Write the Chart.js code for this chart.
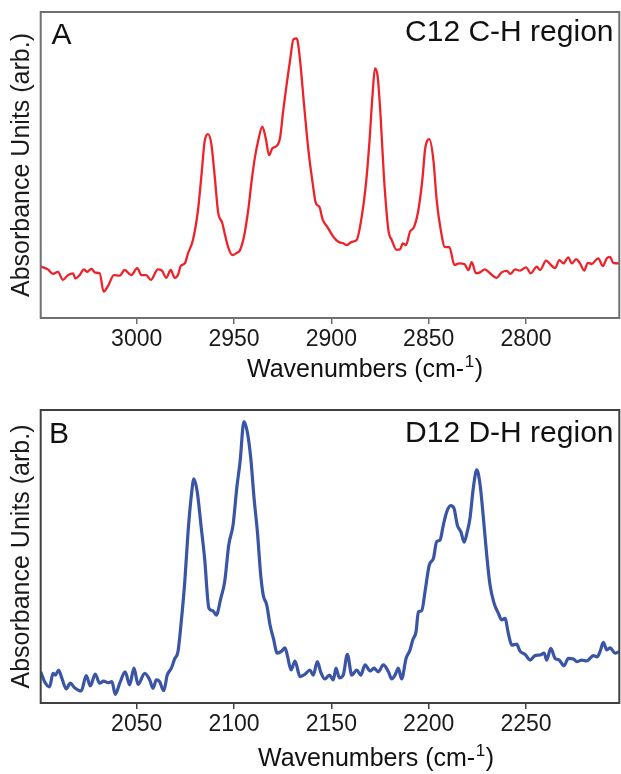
<!DOCTYPE html>
<html>
<head>
<meta charset="utf-8">
<script src="https://cdn.jsdelivr.net/npm/chart.js@4.4.1/dist/chart.umd.min.js"></script>
<style>
  html, body { margin: 0; padding: 0; background: #ffffff; }
  canvas { position: absolute; left: 0; }
  #chartA { top: 0; }
  #chartB { top: 390px; }
</style>
</head>
<body>
<canvas id="chartA" width="621" height="390"></canvas>
<canvas id="chartB" width="621" height="384"></canvas>
<script>
// ---------- Panel A: C12 C-H region ----------
const wavenumbersC12 = [3049.3,3045.6,3043.0,3040.4,3037.9,3035.3,3032.7,3031.5,3029.3,3027.1,
  3025.4,3023.3,3021.3,3019.0,3017.0,3014.7,3011.7,3008.7,3006.2,3002.8,
  2999.7,2997.6,2995.1,2992.8,2989.1,2987.0,2984.8,2982.5,2980.5,2978.8,
  2977.4,2975.3,2973.6,2971.1,2968.5,2966.8,2965.1,2963.4,2961.7,2959.9,
  2958.2,2956.0,2954.8,2953.1,2950.9,2948.3,2946.9,2944.9,2942.7,2940.9,
  2939.2,2937.5,2935.5,2933.7,2932.0,2930.3,2928.6,2926.4,2924.7,2922.9,
  2921.2,2919.5,2917.8,2916.1,2914.1,2911.8,2909.6,2907.9,2906.2,2904.4,
  2902.1,2899.0,2896.4,2893.9,2892.1,2889.5,2887.0,2884.4,2882.2,2880.5,
  2878.8,2877.6,2876.2,2874.7,2873.0,2870.7,2869.0,2866.4,2864.7,2863.3,
  2861.7,2859.6,2857.5,2855.3,2853.1,2851.9,2849.7,2847.6,2845.9,2843.8,
  2841.6,2839.4,2836.8,2834.3,2831.7,2829.6,2827.9,2825.7,2823.6,2821.1,
  2818.5,2815.1,2812.5,2809.9,2807.9,2805.7,2803.1,2800.0,2797.6,2794.5,
  2792.8,2789.7,2787.3,2785.1,2782.9,2780.8,2778.3,2776.5,2774.3,2772.3,
  2770.1,2768.3,2766.3,2762.9,2760.6,2758.5,2756.9,2755.2,2752.1];
const absorbanceC12 = [17.1,16.2,14.7,15.4,12.7,14.3,14.9,13.2,14.3,16.2,
  15.4,16.4,15.1,14.9,8.8,10.7,14.3,14.1,16.0,14.3,
  16.6,14.3,14.3,12.7,16.2,15.8,13.4,16.0,13.4,14.3,
  17.3,18.2,21.6,26.0,36.0,47.1,58.8,61.3,58.2,47.1,
  35.4,31.6,28.2,23.8,21.0,21.8,22.7,27.1,36.0,46.0,
  53.8,59.3,63.8,59.9,54.3,56.6,57.1,59.9,69.3,78.2,
  86.0,92.9,93.2,86.0,71.6,56.0,44.9,38.2,37.1,32.7,
  30.4,27.1,25.4,24.9,24.3,25.4,26.0,33.8,44.9,58.2,
  74.9,83.2,80.4,67.1,47.1,29.3,26.0,22.7,22.9,24.9,
  24.3,28.8,30.4,36.0,47.1,56.0,59.6,52.7,39.3,29.3,
  23.6,23.6,17.7,18.2,18.0,16.0,18.6,14.9,15.2,16.2,
  14.9,13.4,15.2,15.7,14.7,16.2,15.8,16.9,14.9,17.1,
  16.0,19.1,17.7,16.6,19.3,18.2,20.2,18.2,19.6,18.2,
  15.8,18.4,18.0,19.9,17.3,19.9,20.4,18.4,18.2];
const xTicksC12 = [3000, 2950, 2900, 2850, 2800];

// ---------- Panel B: D12 D-H region ----------
const wavenumbersD12 = [2000.7,2002.7,2005.3,2007.0,2008.2,2009.9,2011.6,2013.8,2015.9,2018.1,
  2021.5,2024.1,2026.2,2028.7,2031.0,2033.0,2035.3,2037.3,2039.0,2041.3,
  2044.1,2046.4,2048.6,2050.7,2054.1,2056.7,2058.4,2060.1,2061.8,2063.9,
  2065.7,2067.8,2069.5,2071.2,2072.9,2074.7,2076.4,2078.1,2079.4,2081.1,
  2083.2,2084.9,2087.1,2089.2,2090.9,2093.2,2095.2,2097.3,2099.5,2101.4,
  2103.1,2105.1,2106.8,2108.6,2110.3,2112.0,2113.7,2115.0,2116.8,2118.5,
  2120.2,2122.2,2124.5,2126.2,2127.4,2129.3,2131.3,2133.9,2136.5,2139.0,
  2140.7,2142.8,2144.5,2146.7,2149.0,2151.0,2152.4,2154.1,2156.1,2158.2,
  2160.5,2163.0,2165.1,2167.3,2169.9,2171.9,2174.1,2176.7,2179.3,2181.0,
  2182.7,2184.4,2186.1,2188.4,2190.4,2191.8,2193.5,2194.7,2196.4,2198.1,
  2200.3,2202.4,2204.1,2205.8,2207.5,2209.3,2211.3,2213.0,2214.7,2216.5,
  2218.2,2219.8,2221.2,2222.9,2224.7,2226.4,2228.1,2229.8,2231.5,2233.6,
  2235.8,2237.5,2239.2,2240.9,2242.7,2245.2,2246.9,2249.5,2252.1,2254.6,
  2257.2,2259.3,2260.6,2262.7,2264.9,2267.1,2269.5,2271.7,2274.3,2276.1,
  2278.6,2281.2,2282.9,2284.6,2286.6,2288.0,2289.7,2291.5,2293.2,2295.7,
  2297.8];
const absorbanceD12 = [10.4,7.1,5.4,9.9,9.3,11.0,8.2,4.7,6.6,5.1,
  4.0,9.1,5.7,9.6,6.6,7.3,6.8,7.1,2.9,6.6,
  10.4,6.0,11.6,6.2,9.9,7.7,4.9,7.7,7.1,4.1,
  9.3,11.6,14.7,17.1,27.1,40.4,57.1,69.3,74.7,70.4,
  58.2,48.2,31.6,30.7,29.3,34.9,40.4,52.7,59.3,71.6,
  80.4,93.8,90.4,81.6,68.2,57.1,42.7,36.0,32.7,26.0,
  21.6,16.6,17.3,18.4,15.8,11.0,14.0,8.8,9.6,11.0,
  9.3,13.8,10.4,8.0,9.3,7.7,11.6,8.4,9.3,16.2,
  9.3,11.0,9.3,12.7,10.7,11.6,10.4,12.7,10.4,8.0,
  9.3,11.6,8.0,14.9,17.7,21.0,23.8,30.4,30.7,37.1,
  46.0,48.2,53.8,54.3,59.3,63.8,65.8,64.9,59.3,57.1,
  53.6,57.1,61.6,71.6,77.7,72.7,61.6,49.3,39.3,33.2,
  29.9,27.7,28.2,23.2,19.3,19.6,17.3,16.2,14.3,15.8,
  16.0,16.6,14.3,18.2,14.9,14.3,12.4,14.9,14.7,13.8,
  14.3,14.0,14.9,15.8,15.4,17.1,20.2,17.7,18.4,16.6,
  17.1];
const xTicksD12 = [2050, 2100, 2150, 2200, 2250];

// ---------- Texts ----------
const panelLetters = ['A', 'B'];
const panelTitles = ['C12 C-H region', 'D12 D-H region'];
const yAxisTitle = 'Absorbance Units (arb.)';
const xAxisTitleParts = ['Wavenumbers (cm-', '1', ')'];

const FONT = "'Liberation Sans', Arial, Helvetica, sans-serif";
Chart.defaults.font.family = FONT;

function textPlugin(cfg) {
  return {
    id: 'panelText',
    afterDraw(chart) {
      const ctx = chart.ctx;
      const a = chart.chartArea;
      ctx.save();
      // frame
      ctx.strokeStyle = cfg.frameColor;
      ctx.lineWidth = 2;
      ctx.strokeRect(a.left, a.top, a.right - a.left, a.bottom - a.top);
      ctx.fillStyle = '#111111';
      ctx.textBaseline = 'alphabetic';
      // panel letter
      ctx.font = '30px ' + FONT;
      ctx.textAlign = 'left';
      ctx.fillText(cfg.letter, cfg.letterX, cfg.letterBase);
      // panel title
      ctx.textAlign = 'right';
      ctx.fillText(cfg.title, cfg.titleRight, cfg.titleBase);
      // x axis title with superscript
      ctx.textAlign = 'left';
      const mainFont = '25px ' + FONT, supFont = '17px ' + FONT;
      ctx.font = mainFont; const w0 = ctx.measureText(xAxisTitleParts[0]).width;
      const w2 = ctx.measureText(xAxisTitleParts[2]).width;
      ctx.font = supFont; const w1 = ctx.measureText(xAxisTitleParts[1]).width;
      let x = cfg.xTitleCenter - (w0 + w1 + w2 + 1) / 2;
      ctx.font = mainFont; ctx.fillText(xAxisTitleParts[0], x, cfg.xTitleBase); x += w0 + 0.5;
      ctx.font = supFont; ctx.fillText(xAxisTitleParts[1], x, cfg.xTitleBase - 10); x += w1 + 0.5;
      ctx.font = mainFont; ctx.fillText(xAxisTitleParts[2], x, cfg.xTitleBase);
      ctx.restore();
    }
  };
}

function makeChart(id, xs, ys, xTicks, cfg) {
  const points = xs.map((x, i) => ({ x: x, y: ys[i] }));
  return new Chart(document.getElementById(id), {
    type: 'line',
    data: {
      datasets: [{
        data: points,
        borderColor: cfg.color,
        borderWidth: cfg.lineWidth,
        pointRadius: 0,
        fill: false,
        cubicInterpolationMode: 'monotone'
      }]
    },
    options: {
      responsive: false,
      animation: false,
      events: [],
      layout: { padding: { top: cfg.padTop, right: 1.7, left: 0, bottom: 0 } },
      plugins: { legend: { display: false }, tooltip: { enabled: false } },
      scales: {
        x: {
          type: 'linear',
          reverse: cfg.reverse,
          min: cfg.xMin,
          max: cfg.xMax,
          afterBuildTicks: s => { s.ticks = xTicks.map(v => ({ value: v })); },
          afterFit: s => { s.height = cfg.xHeight; },
          border: { display: false },
          grid: { display: true, drawOnChartArea: false, drawTicks: true, tickLength: 6,
                  color: cfg.frameColor, lineWidth: 1.5 },
          ticks: { color: '#1a1a1a', font: { size: 23 }, padding: 2, maxRotation: 0,
                   autoSkip: false, callback: v => String(v) }
        },
        y: {
          min: 0,
          max: cfg.yMax,
          afterFit: s => { s.width = 40.7; },
          border: { display: false },
          grid: { display: false },
          ticks: { display: false },
          title: { display: true, text: yAxisTitle, color: '#1a1a1a',
                   font: { size: 25 }, padding: { top: 7, bottom: 0 } }
        }
      }
    },
    plugins: [textPlugin(cfg)]
  });
}

makeChart('chartA', wavenumbersC12, absorbanceC12, xTicksC12, {
  color: '#ee2229', lineWidth: 2.3, reverse: true, xMin: 2752.1, xMax: 3049.3,
  yMax: 102, padTop: 12, xHeight: 72, frameColor: '#707070',
  letter: panelLetters[0], letterX: 51.5, letterBase: 43.5,
  title: panelTitles[0], titleRight: 613.5, titleBase: 40.5,
  xTitleCenter: 365, xTitleBase: 377
});

makeChart('chartB', wavenumbersD12, absorbanceD12, xTicksD12, {
  color: '#3a54a6', lineWidth: 3.2, reverse: false, xMin: 2000.7, xMax: 2297.9,
  yMax: 97.67, padTop: 20, xHeight: 71, frameColor: '#404040',
  letter: panelLetters[1], letterX: 49, letterBase: 52.5,
  title: panelTitles[1], titleRight: 613.5, titleBase: 52,
  xTitleCenter: 376, xTitleBase: 376
});
</script>
</body>
</html>
